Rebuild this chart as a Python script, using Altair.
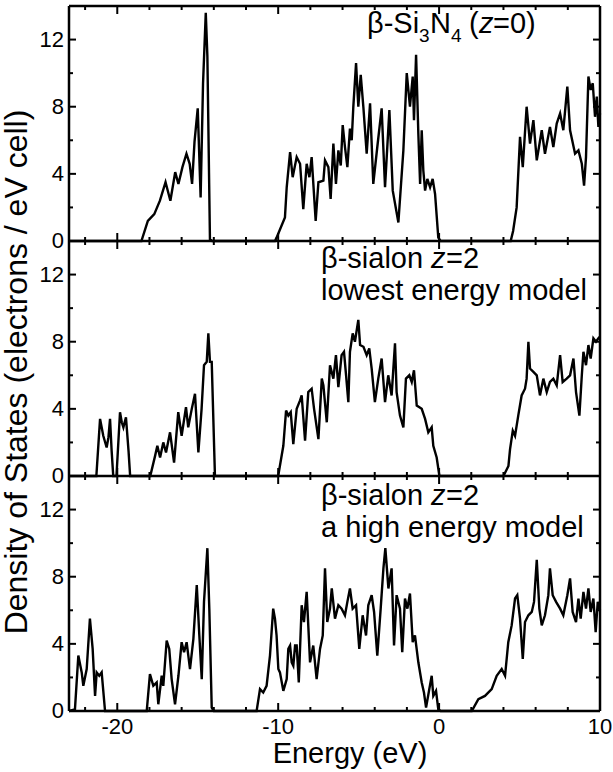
import altair as alt
import pandas as pd

# Density of states (electrons / eV cell) versus energy (eV)
# beta-Si3N4 (z=0)
e_si3n4 = [-23.0, -18.5, -18.1, -17.7, -17.35, -17.0, -16.7, -16.4, -16.2, -15.95, -15.7, -15.5,
           -15.35, -15.2, -15.0, -14.82, -14.67, -14.5, -14.4, -14.24, -14.1, -10.2, -10.1, -9.58,
           -9.47, -9.26, -9.1, -8.85, -8.64, -8.44, -8.23, -8.06, -7.92, -7.67, -7.5, -7.19, -7.09,
           -6.88, -6.74, -6.57, -6.41, -6.26, -6.11, -5.99, -5.85, -5.70, -5.54, -5.43, -5.33,
           -5.16, -5.02, -4.87, -4.70, -4.5, -4.29, -4.09, -3.84, -3.57, -3.36, -3.09, -2.88,
           -2.53, -2.22, -2.01, -1.81, -1.64, -1.56, -1.43, -1.29, -1.18, -1.08, -0.98, -0.87,
           -0.73, -0.56, -0.40, -0.25, -0.05, 0.1, 4.45, 4.6, 4.82, 5.03, 5.2, 5.44, 5.65, 5.86,
           6.07, 6.38, 6.58, 6.89, 7.1, 7.31, 7.52, 7.72, 7.97, 8.14, 8.45, 8.66, 8.87, 9.01,
           9.13, 9.28, 9.42, 9.55, 9.69, 9.8, 9.9, 10.0]
d_si3n4 = [0.0, 0.0, 1.2, 1.6, 2.4, 3.5, 2.4, 4.1, 3.4, 4.4, 5.2, 4.6,
           3.4, 5.9, 7.9, 2.6, 9.4, 13.6, 11.0, 0.1, 0.0, 0.0, 0.2, 1.4,
           3.2, 5.3, 3.8, 5.0, 4.6, 1.9, 4.6, 3.8, 5.0, 1.2, 3.5, 3.6, 4.8,
           4.4, 2.5, 5.8, 3.4, 5.4, 4.5, 6.9, 5.6, 4.4, 6.7, 6.0, 8.0,
           10.6, 8.0, 9.9, 7.9, 5.2, 8.2, 3.4, 5.6, 7.9, 3.2, 7.8, 3.0,
           1.1, 5.4, 10.0, 8.0, 9.8, 7.2, 11.1, 6.4, 3.4, 6.6, 4.2, 3.0,
           3.7, 3.2, 3.7, 2.8, 0.2, 0.0, 0.0, 0.6, 2.0, 6.2, 4.4, 8.0, 5.8, 7.2,
           4.8, 6.6, 5.2, 6.8, 5.6, 7.0, 7.6, 6.6, 9.2, 6.6, 5.2, 5.4, 4.6, 3.3,
           5.0, 9.8, 9.0, 9.4, 7.4, 8.6, 6.8, 7.6]

# beta-sialon z=2, lowest energy model
e_low = [-23.0, -21.3, -21.07, -20.95, -20.87, -20.66, -20.55, -20.45, -20.35, -20.25, -20.05,
         -19.83, -19.72, -19.62, -19.46, -19.3, -19.2, -17.95, -17.65, -17.51, -17.34, -17.14,
         -16.97, -16.72, -16.47, -16.21, -16.0, -15.73, -15.59, -15.37, -15.17, -14.96, -14.76,
         -14.61, -14.44, -14.34, -14.24, -14.13, -13.93, -10.0, -9.68, -9.51, -9.37, -9.22,
         -9.06, -8.85, -8.64, -8.54, -8.33, -8.13, -7.92, -7.77, -7.5, -7.29, -7.19, -6.98,
         -6.78, -6.57, -6.41, -6.26, -6.06, -5.91, -5.78, -5.64, -5.54, -5.37, -5.23, -5.02,
         -4.91, -4.70, -4.5, -4.34, -4.19, -3.99, -3.78, -3.57, -3.36, -3.16, -2.95, -2.74,
         -2.64, -2.43, -2.22, -2.06, -1.85, -1.70, -1.56, -1.39, -1.08, -0.87, -0.67, -0.46,
         -0.36, -0.15, 0.02, 4.0, 4.31, 4.41, 4.58, 4.72, 4.92, 5.13, 5.34, 5.44, 5.55, 5.65,
         5.86, 6.07, 6.27, 6.48, 6.69, 6.89, 7.1, 7.31, 7.52, 7.68, 7.93, 8.14, 8.35, 8.51,
         8.72, 8.87, 8.97, 9.13, 9.28, 9.42, 9.59, 9.75, 9.9, 10.0]
d_low = [0.0, 0.0, 3.4, 2.8, 2.4, 1.7, 2.3, 3.4, 1.5, 0.0, 0.0,
         3.8, 3.2, 2.9, 3.5, 1.5, 0.0, 0.0, 1.2, 1.8, 1.1, 2.0,
         1.4, 2.6, 0.8, 3.8, 2.4, 4.1, 2.9, 4.0, 4.9, 1.4, 4.0,
         6.6, 6.8, 8.5, 6.8, 6.8, 0.0, 0.0, 1.8, 3.9, 3.6, 3.8,
         1.9, 4.0, 4.5, 4.8, 2.1, 5.0, 5.2, 4.0, 2.2, 5.8, 5.4, 3.2,
         6.6, 5.8, 7.2, 5.3, 7.2, 7.4, 6.0, 4.4, 7.4, 8.5, 8.0, 9.3,
         7.8, 7.7, 7.2, 7.6, 6.4, 4.4, 5.8, 7.0, 4.4, 6.0, 4.8, 7.9,
         5.0, 3.6, 2.9, 5.8, 6.0, 5.6, 6.3, 4.2, 4.0, 3.4, 2.6, 2.9,
         1.8, 1.1, 0.0, 0.0, 0.6, 1.6, 2.7, 2.4, 3.6, 4.8, 5.2, 5.8, 8.0, 6.4,
         6.2, 6.0, 4.8, 5.8, 5.0, 5.6, 5.8, 5.4, 7.2, 5.6, 5.8, 6.0, 7.0, 5.0,
         3.6, 6.0, 7.4, 6.6, 7.8, 7.0, 8.2, 8.0, 8.2, 8.3]

# beta-sialon z=2, a high energy model
e_high = [-23.0, -22.63, -22.42, -22.21, -22.11, -21.9, -21.7, -21.53, -21.38, -21.28, -21.12,
          -20.97, -20.76, -18.17, -17.97, -17.76, -17.55, -17.45, -17.24, -17.14, -16.93,
          -16.77, -16.62, -16.41, -16.2, -16.0, -15.85, -15.69, -15.48, -15.27, -15.06, -14.9,
          -14.75, -14.61, -14.4, -14.28, -14.13, -14.0, -11.34, -11.13, -10.93, -10.72, -10.51,
          -10.31, -10.2, -10.1, -9.99, -9.89, -9.68, -9.47, -9.37, -9.26, -9.16, -9.06, -8.95,
          -8.85, -8.72, -8.54, -8.4, -8.23, -8.02, -7.82, -7.61, -7.4, -7.23, -7.09, -6.95,
          -6.78, -6.67, -6.47, -6.26, -6.06, -5.85, -5.70, -5.54, -5.37, -5.16, -4.96, -4.75,
          -4.54, -4.40, -4.19, -4.04, -3.84, -3.63, -3.46, -3.34, -3.15, -2.95, -2.8, -2.64,
          -2.43, -2.29, -2.12, -1.97, -1.81, -1.64, -1.50, -1.29, -1.08, -0.94, -0.81, -0.61,
          -0.46, -0.36, -0.19, -0.05, 0.1, 2.03, 2.44, 2.85, 3.27, 3.58, 3.89, 4.1, 4.3, 4.51,
          4.72, 4.86, 5.03, 5.2, 5.34, 5.55, 5.76, 5.9, 6.07, 6.23, 6.38, 6.58, 6.79, 6.89,
          7.06, 7.27, 7.52, 7.72, 7.97, 8.14, 8.3, 8.51, 8.66, 8.8, 8.97, 9.13, 9.28, 9.42,
          9.59, 9.73, 9.86, 10.0]
d_high = [0.0, 0.1, 3.3, 2.3, 1.5, 2.5, 5.5, 3.7, 0.9, 2.3, 2.1,
          2.3, 0.0, 0.0, 2.2, 1.5, 1.7, 0.4, 2.1, 1.5, 4.2,
          3.7, 1.9, 0.4, 2.1, 4.1, 3.5, 4.1, 2.5, 4.3, 7.5, 4.5,
          1.9, 6.5, 9.7, 6.1, 0.2, 0.0, 0.0, 1.3, 1.1, 1.5, 3.3,
          6.1, 5.5, 4.5, 2.5, 2.3, 1.2, 1.9, 3.7, 3.9, 2.9, 2.7, 3.9,
          3.9, 1.7, 6.3, 5.3, 7.1, 2.9, 3.9, 1.9, 3.7, 4.5, 8.5, 5.3,
          6.1, 7.3, 5.5, 6.3, 6.1, 5.7, 6.5, 7.3, 6.1, 6.3, 3.7, 5.7,
          4.5, 6.3, 6.9, 5.9, 3.3, 6.1, 8.5, 9.7, 7.3, 8.5, 3.9, 6.9,
          6.1, 3.5, 6.7, 6.1, 7.0, 4.1, 4.5, 2.9, 1.7, 1.1, 0.2, 1.3,
          2.1, 0.9, 1.2, 0.1, 0.0, 0.0, 0.7, 0.9, 1.3, 2.1, 2.5, 2.1, 4.1, 5.1,
          6.7, 6.9, 5.5, 3.1, 5.3, 5.7, 5.9, 6.5, 9.0, 6.1, 5.1, 5.7, 6.9, 8.5,
          6.9, 6.5, 6.1, 5.7, 6.9, 7.9, 5.9, 5.3, 6.7, 5.5, 7.1, 6.1, 7.3, 5.9,
          6.7, 4.7, 6.5, 6.0]

# axis ticks and labels
x_major = [-20, -10, 0, 10]
x_minor = [-22, -18, -16, -14, -12, -8, -6, -4, -2, 2, 4, 6, 8]
y_labels = [0, 4, 8, 12]
y_major = [4, 8, 12]
y_minor = [2, 6, 10]
x_title = "Energy (eV)"
y_title = "Density of States (electrons / eV cell)"

X_MIN, X_MAX = -23, 10
SPAN = 14          # DOS range shown in each panel
N = 3              # number of stacked panels
W, H = 531, 235    # one panel, in pixels
LEFT, TOP, RIGHT, BOTTOM = 69, 6, 13, 61   # room for labels and titles
PX_X = W / (X_MAX - X_MIN)   # pixels per eV
PX_Y = H / SPAN              # pixels per DOS unit
FONT = "Liberation Sans"

# the drawing area covers the whole canvas; the panels sit inside it
XS = alt.Scale(domain=[X_MIN - LEFT / PX_X, X_MAX + RIGHT / PX_X], nice=False, zero=False)
YS = alt.Scale(domain=[-BOTTOM / PX_Y, SPAN * N + TOP / PX_Y], nice=False, zero=False)

X = lambda f: alt.X(f, scale=XS, axis=None)
Y = lambda f: alt.Y(f, scale=YS, axis=None)

# the three spectra stacked top to bottom, each shifted up by its panel offset
series = [(e_si3n4, d_si3n4), (e_low, d_low), (e_high, d_high)]
curves = pd.concat([
    pd.DataFrame({"energy": e, "dos": d, "panel": i,
                  "level": [v + SPAN * (N - 1 - i) for v in d]})
    for i, (e, d) in enumerate(series)
], ignore_index=True)

edges = [SPAN * k for k in range(N + 1)]
top_edge = edges[-1]


def xtick_rows(values, length_px):
    step = length_px / PX_Y
    return pd.DataFrame([(x, b - (step if b > 0 else 0), b + (step if b < top_edge else 0))
                         for b in edges for x in values], columns=["x", "y1", "y2"])


def ytick_rows(values, length_px):
    step = length_px / PX_X
    rows = []
    for k in range(N):
        for v in values:
            rows.append((X_MIN, X_MIN + step, v + SPAN * k))
            rows.append((X_MAX, X_MAX - step, v + SPAN * k))
    return pd.DataFrame(rows, columns=["x1", "x2", "y"])


h_frame = pd.DataFrame({"x1": X_MIN, "x2": X_MAX, "y": edges})
v_frame = pd.DataFrame({"x": [X_MIN, X_MAX], "y1": 0, "y2": top_edge})
ylab = pd.DataFrame([(v + SPAN * k, str(v)) for k in range(N) for v in y_labels],
                    columns=["y", "s"])
xlab = pd.DataFrame({"x": x_major, "s": [str(v) for v in x_major]})

lines = alt.Chart(curves).mark_line(color="black", strokeWidth=2.4).encode(
    x=X("energy:Q"), y=Y("level:Q"), detail="panel:N", order="energy:Q")

frame = [
    alt.Chart(h_frame).mark_rule(color="black", strokeWidth=2.5).encode(
        x=X("x1:Q"), x2="x2:Q", y=Y("y:Q")),
    alt.Chart(v_frame).mark_rule(color="black", strokeWidth=2.5).encode(
        x=X("x:Q"), y=Y("y1:Q"), y2="y2:Q"),
]

ticks = []
for rows in (xtick_rows(x_major, 8), xtick_rows(x_minor, 4)):
    ticks.append(alt.Chart(rows).mark_rule(color="black", strokeWidth=2).encode(
        x=X("x:Q"), y=Y("y1:Q"), y2="y2:Q"))
for rows in (ytick_rows(y_major, 7), ytick_rows(y_minor, 4)):
    ticks.append(alt.Chart(rows).mark_rule(color="black", strokeWidth=2).encode(
        x=X("x1:Q"), x2="x2:Q", y=Y("y:Q")))

ylabels = alt.Chart(ylab).mark_text(
    align="right", baseline="middle", font=FONT, fontSize=22, color="black"
).encode(y=Y("y:Q"), x=alt.value(LEFT - 5), text="s:N")

xlabels = alt.Chart(xlab).mark_text(
    align="center", baseline="top", font=FONT, fontSize=22, color="black"
).encode(x=X("x:Q"), y=alt.value(TOP + N * H + 6), text="s:N")


def label(text, x, y, size=29, style="normal", angle=0, align="left", baseline="alphabetic"):
    """Text placed in pixels relative to the top-left corner of the panels."""
    return alt.Chart(pd.DataFrame({"t": [text]})).mark_text(
        align=align, baseline=baseline, font=FONT, fontSize=size,
        fontStyle=style, angle=angle, color="black"
    ).encode(x=alt.value(LEFT + x), y=alt.value(TOP + y), text="t:N")


texts = [
    # top panel
    label("β-Si", 298, 27),
    label("3", 350, 36, size=19),
    label("N", 361, 27),
    label("4", 382, 36, size=19),
    label("(", 400, 27),
    label("z", 410, 27, style="italic"),
    label("=0)", 424, 27),
    # middle panel
    label("β-sialon ", 252, H + 27),
    label("z", 362, H + 27, style="italic"),
    label("=2", 377, H + 27),
    label("lowest energy model", 252, H + 59),
    # bottom panel
    label("β-sialon ", 252, 2 * H + 29),
    label("z", 362, 2 * H + 29, style="italic"),
    label("=2", 377, 2 * H + 29),
    label("a high energy model", 252, 2 * H + 61),
    # axis titles
    label(y_title, -52, H + 131, size=32, angle=270, align="center", baseline="middle"),
    label(x_title, 281, N * H + 52, size=29, align="center"),
]

chart = alt.layer(lines, *frame, *ticks, ylabels, xlabels, *texts).properties(
    width=LEFT + W + RIGHT, height=TOP + N * H + BOTTOM,
    padding={"left": 0, "top": 0, "right": 0, "bottom": 0},
    background="white",
).configure_view(strokeWidth=0)

chart.save("out.html", embed_options={"renderer": "svg", "actions": False})
